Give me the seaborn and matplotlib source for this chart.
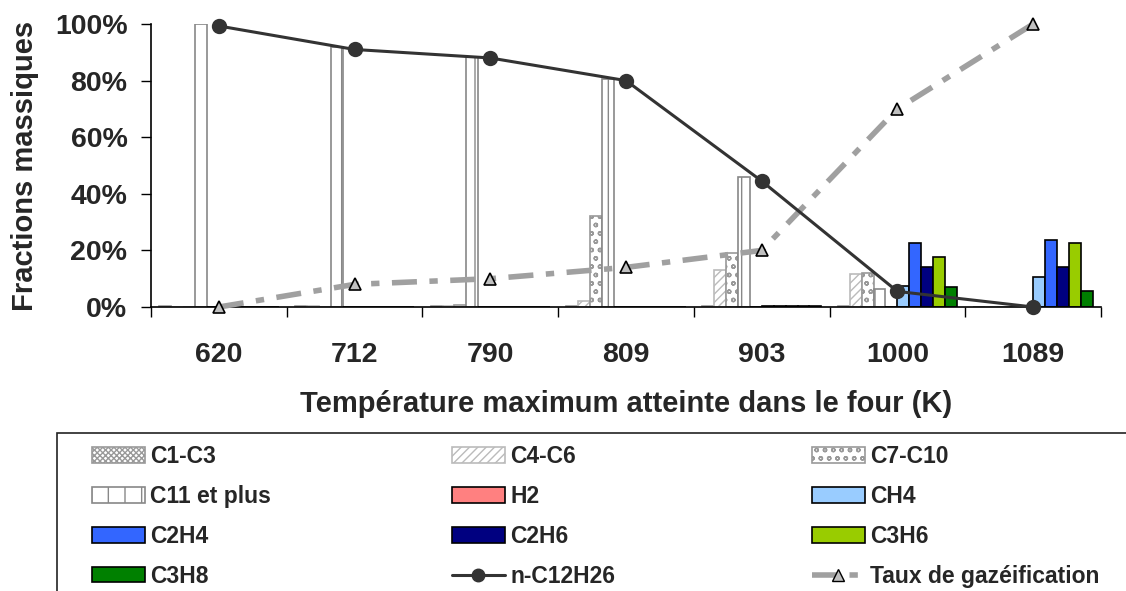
import numpy as np
import pandas as pd
import matplotlib
matplotlib.use("Agg")
import matplotlib.pyplot as plt
import seaborn as sns
from matplotlib.patches import Patch, Rectangle
from matplotlib.lines import Line2D
from matplotlib.ticker import PercentFormatter, FixedLocator

# --- data (fractions massiques, %) ---
temperatures = ["620", "712", "790", "809", "903", "1000", "1089"]
species = ["C1-C3", "C4-C6", "C7-C10", "C11 et plus", "H2", "CH4",
           "C2H4", "C2H6", "C3H6", "C3H8"]

c1_c3 = [0.2, 0.2, 0.2, 0.3, 0.2, 0.3, 0.0]
c4_c6 = [0.0, 0.3, 0.3, 2.0, 13.0, 11.7, 0.0]
c7_c10 = [0.0, 0.0, 0.8, 32.0, 19.0, 12.0, 0.0]
c11_plus = [100.0, 92.0, 88.3, 80.5, 46.0, 6.3, 0.0]
h2 = [0.0, 0.0, 0.0, 0.0, 0.0, 0.0, 0.0]
ch4 = [0.0, 0.0, 0.0, 0.0, 0.2, 7.4, 10.5]
c2h4 = [0.0, 0.0, 0.0, 0.0, 0.5, 22.7, 23.6]
c2h6 = [0.0, 0.0, 0.0, 0.0, 0.5, 14.2, 14.2]
c3h6 = [0.0, 0.0, 0.0, 0.0, 0.3, 17.7, 22.6]
c3h8 = [0.0, 0.0, 0.0, 0.0, 0.2, 7.1, 5.7]

n_c12h26 = [99.3, 91.0, 88.0, 80.0, 44.5, 5.5, 0.0]
taux_gazeification = [0.0, 8.0, 10.0, 14.0, 20.0, 70.0, 100.0]

series = [c1_c3, c4_c6, c7_c10, c11_plus, h2, ch4, c2h4, c2h6, c3h6, c3h8]

# --- styles per species ---
face = ["white", "white", "white", "white", "#FF8080", "#99CCFF",
        "#3366FF", "#000080", "#99CC00", "#008000"]
edge = ["#999999", "#BBBBBB", "#999999", "#888888", "black", "black",
        "black", "black", "black", "black"]
hatches = ["xxxxxx", "////", "oo", "|", None, None, None, None, None, None]

rows = []
for sp, vals in zip(species, series):
    for t, v in zip(temperatures, vals):
        rows.append({"temp": t, "species": sp, "value": v / 100.0})
df = pd.DataFrame(rows)

sns.set_style("white")
plt.rcParams["font.family"] = ["Liberation Sans", "DejaVu Sans"]
plt.rcParams["font.weight"] = "bold"
plt.rcParams["hatch.color"] = "#999999"
plt.rcParams["hatch.linewidth"] = 1.0
plt.rcParams["lines.scale_dashes"] = False

W, H = 1126, 591
fig = plt.figure(figsize=(W / 100, H / 100), dpi=100)
ax = fig.add_axes([151 / W, 1 - 307 / H, 950 / W, 283 / H])

sns.barplot(data=df, x="temp", y="value", hue="species", order=temperatures,
            hue_order=species, width=0.88, gap=0, dodge=True, errorbar=None,
            palette=dict(zip(species, face)), ax=ax, legend=False,
            linewidth=1.2)

for i, cont in enumerate(ax.containers):
    for p in cont:
        p.set_facecolor(face[i])
        p.set_edgecolor(edge[i])
        p.set_linewidth(1.2)
        if hatches[i]:
            p.set_hatch(hatches[i])

# n-C12H26 line
sns.pointplot(x=temperatures, y=[v / 100.0 for v in n_c12h26], color="#333333",
              markers="o", linestyles="-", errorbar=None, ax=ax)
line_n = ax.lines[-1]
line_n.set_linewidth(2.2)
line_n.set_markersize(9)
line_n.set_zorder(5)
line_n.set_clip_on(False)

# Taux de gazeification line
sns.pointplot(x=temperatures, y=[v / 100.0 for v in taux_gazeification],
              color="#A0A0A0", markers="^", linestyles="-", errorbar=None, ax=ax)
line_t = ax.lines[-1]
line_t.set_linewidth(4)
line_t.set_dashes([18, 9, 6, 9])
line_t.set_markersize(9)
line_t.set_markerfacecolor("#C0C0C0")
line_t.set_markeredgecolor("black")
line_t.set_markeredgewidth(1.2)
line_t.set_zorder(4)
line_t.set_clip_on(False)

ax.set_xlim(-0.5, len(temperatures) - 0.5)
ax.set_ylim(0, 1.0)
ax.yaxis.set_major_formatter(PercentFormatter(1.0, decimals=0))
ax.set_yticks([0, 0.2, 0.4, 0.6, 0.8, 1.0])
ax.set_xticks(range(len(temperatures)))
ax.set_xticklabels(temperatures)
ax.xaxis.set_minor_locator(FixedLocator(np.arange(-0.5, len(temperatures), 1.0)))
ax.tick_params(axis="x", which="major", length=0, pad=25, labelsize=20.5)
ax.tick_params(axis="x", which="minor", length=7, width=1, direction="out",
               color="black", bottom=True)
ax.tick_params(axis="y", length=7, width=1, direction="out", color="black",
               left=True, pad=10, labelsize=20.5)
for lab in ax.get_xticklabels() + ax.get_yticklabels():
    lab.set_fontweight("bold")

for s in ["top", "right"]:
    ax.spines[s].set_visible(False)
for s in ["left", "bottom"]:
    ax.spines[s].set_color("black")
    ax.spines[s].set_linewidth(1.2)
ax.grid(False)

ax.set_xlabel("Température maximum atteinte dans le four (K)", fontsize=21,
              fontweight="bold", labelpad=16)
ax.set_ylabel("Fractions massiques", fontsize=21, fontweight="bold", labelpad=11)

# legend: three columns placed separately, one frame around them
handles = {}
for i, sp in enumerate(species):
    handles[sp] = Patch(facecolor=face[i], edgecolor=edge[i], hatch=hatches[i],
                        linewidth=1.2)
handles["n-C12H26"] = Line2D([], [], color="#333333", lw=2.2, marker="o",
                             markersize=9)
handles["Taux de gazéification"] = Line2D([], [], color="#A0A0A0", lw=4,
                                          dashes=[18, 9, 6, 9], marker="^",
                                          markersize=8,
                                          markerfacecolor="#C0C0C0",
                                          markeredgecolor="black")
columns = [["C1-C3", "C11 et plus", "C2H4", "C3H8"],
           ["C4-C6", "H2", "C2H6", "n-C12H26"],
           ["C7-C10", "CH4", "C3H6", "Taux de gazéification"]]
for k, col in enumerate(columns):
    fig.legend([handles[n] for n in col], col, loc="upper left",
               bbox_to_anchor=((92 + 360 * k) / W, 1 - 445 / H),
               frameon=False, prop={"weight": "bold", "size": 16.5},
               handlelength=2.3, handleheight=0.65, handletextpad=0.25,
               labelspacing=0.74, borderpad=0, borderaxespad=0)

fig.add_artist(Rectangle((57 / W, -0.05), 1.1, (H - 433) / H + 0.05,
                         transform=fig.transFigure, fill=False,
                         edgecolor="#222222", linewidth=1.2))

fig.savefig("out.png", dpi=100)
